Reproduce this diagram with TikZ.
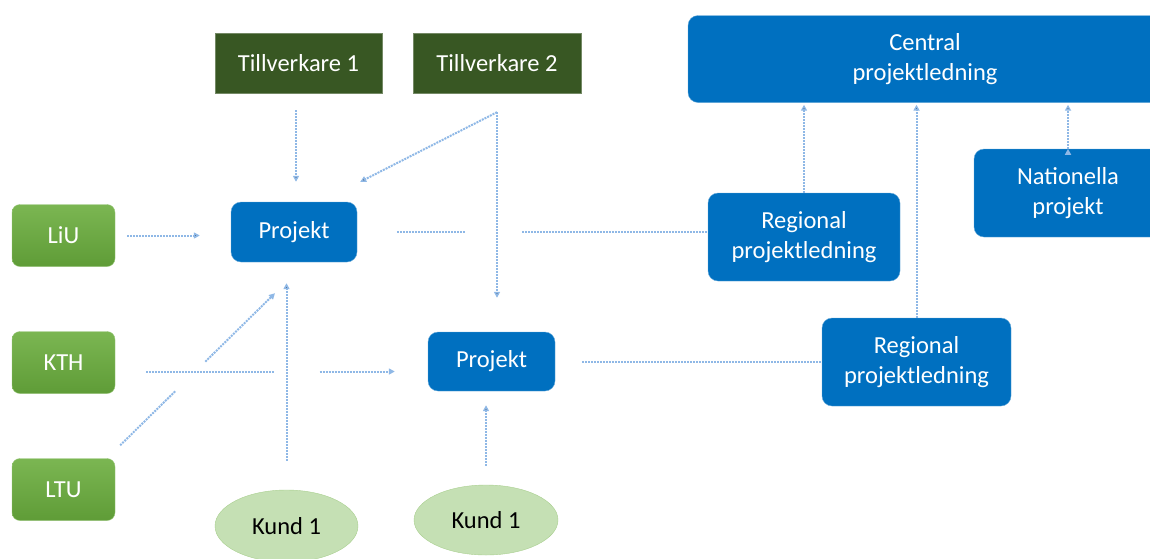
\documentclass[tikz,border=0pt]{standalone}
\usepackage{fontspec}
\setmainfont{Carlito}
\usetikzlibrary{arrows.meta, calc, shapes.geometric}

\definecolor{projblue}{HTML}{0070C0}
\definecolor{darkgreen}{HTML}{385723}
\definecolor{unitop}{HTML}{7BB652}
\definecolor{unibot}{HTML}{5F9C37}
\definecolor{kundfill}{HTML}{C5E0B4}
\definecolor{kundline}{HTML}{A9CF8F}
\definecolor{linkblue}{HTML}{8FB8E6}

\tikzset{
  blue box/.style={rectangle, rounded corners=10pt, fill=projblue, draw=projblue!60!white,
    text=white, align=center, inner sep=0pt},
  maker box/.style={rectangle, fill=darkgreen, draw=darkgreen!70!white, text=white,
    inner sep=0pt, minimum height=60pt},
  uni box/.style={rectangle, rounded corners=8pt, top color=unitop, bottom color=unibot,
    draw=unitop!80!white, text=white, inner sep=0pt, minimum width=103pt, minimum height=62pt},
  kund/.style={ellipse, fill=kundfill, draw=kundline, inner sep=0pt},
  link/.style={draw=linkblue, densely dotted, line width=2pt}
}

\begin{document}
\begin{tikzpicture}[x=1pt, y=-1pt, font=\fontsize{24.5}{30}\selectfont,
    >={Triangle[length=6pt, width=6pt]}]
   \useasboundingbox (0,0) rectangle (1150,558);

   \node[maker box, minimum width=167pt] (t1) at (298.5,63) {Tillverkare 1};
   \node[maker box, minimum width=168pt] (t2) at (497,63) {Tillverkare 2};
   \node[blue box, minimum width=474pt, minimum height=87pt] (cpl) at (925,59) {Central\\projektledning};
   \node[blue box, minimum width=188pt, minimum height=88pt] (nat) at (1068,193) {Nationella\\projekt};

   \node[uni box] (liu) at (63.5,235.5) {LiU};
   \node[uni box] (kth) at (63.5,362.5) {KTH};
   \node[uni box] (ltu) at (63.5,489.5) {LTU};

   \node[blue box, minimum width=126pt, minimum height=60pt] (p1) at (294,232) {Projekt};
   \node[blue box, minimum width=127pt, minimum height=59pt] (p2) at (491.5,361.5) {Projekt};
   \node[blue box, minimum width=192pt, minimum height=88pt] (r1) at (804,237) {Regional\\projektledning};
   \node[blue box, minimum width=189pt, minimum height=88pt] (r2) at (916.5,362) {Regional\\projektledning};

   \node[kund, minimum width=143pt, minimum height=72pt] (k1) at (286.5,526) {Kund 1};
   \node[kund, minimum width=144pt, minimum height=70pt] (k2) at (486,520) {Kund 1};

   \coordinate (t2out) at ([shift={(0,19)}]t2.south);
   \coordinate (kl) at ([shift={(0,9)}]kth.east);
   \coordinate (ls) at ([shift={(5,-13)}]ltu.north east);
   \coordinate (le) at ([shift={(-19,31)}]p1.south);

   \path[link, ->]
    (liu.east) edge [shorten <=12pt, shorten >=31pt] (liu.east -| p1.west)
    ([xshift=-2.5pt]t1.south) edge [shorten <=17pt, shorten >=20pt] ([xshift=-2.5pt]t1.south |- p1.north)
    (t2out) edge ([shift={(3,-20)}]p1.north east)
            edge [shorten >=34pt] (t2out |- p2.north)
    (k1.north) edge [shorten <=29pt, shorten >=21pt] (k1.north |- p1.south)
    (k2.north) edge [shorten <=19pt, shorten >=14pt] (k2.north |- p2.south)
    (r1.north) edge [shorten >=2pt] (r1.north |- cpl.south)
    (r2.north) edge [shorten >=2pt] (r2.north |- cpl.south)
    (nat.north) edge [shorten >=2pt] (nat.north |- cpl.south);

   % lines broken where they cross
   \draw[link, shorten <=40pt, shorten >=32pt] (p1.east) -- (p1.east -| t2out);
   \draw[link, shorten <=25pt] (p1.east -| t2out) -- (p1.east -| r1.west);
   \draw[link, shorten <=27pt] (p2.east) -- (p2.east -| r2.west);
   \draw[link, shorten <=31pt, shorten >=12pt] (kl) -- (kl -| k1);
   \draw[link, ->, shorten <=33pt, shorten >=33pt] (kl -| k1) -- (kl -| p2.west);
   \draw[link] (ls) -- ($(ls)!0.355!(le)$);
   \draw[link, ->] ($(ls)!0.55!(le)$) -- (le);
\end{tikzpicture}
\end{document}
